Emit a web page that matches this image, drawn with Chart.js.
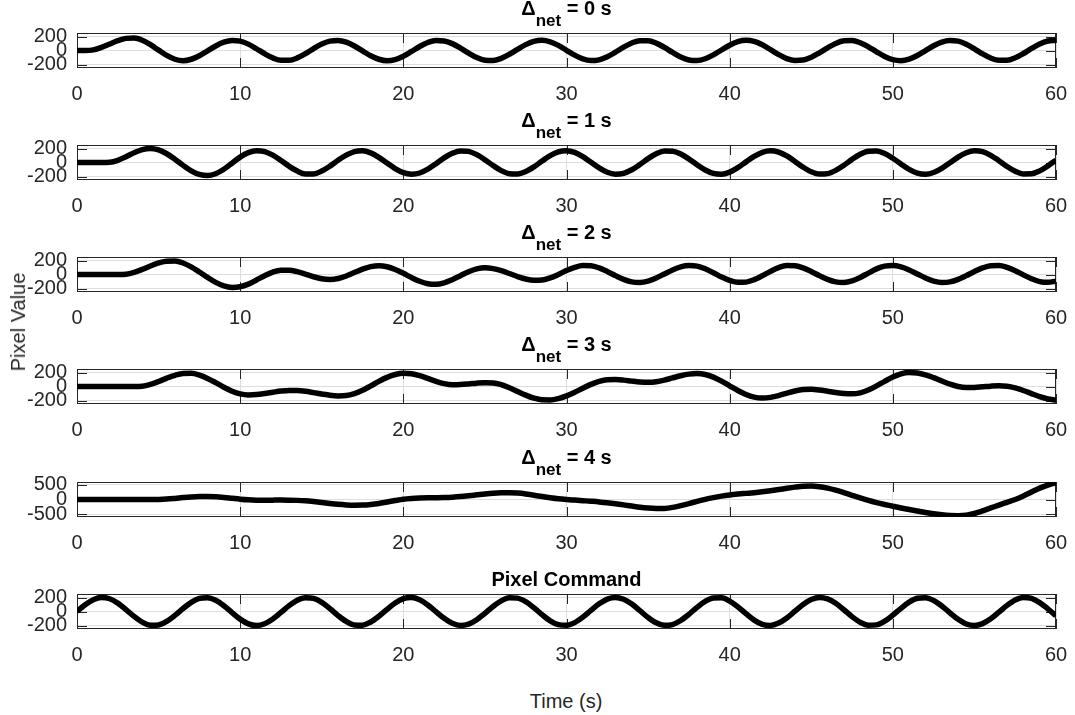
<!DOCTYPE html>
<html>
<head>
<meta charset="utf-8">
<script src="https://cdn.jsdelivr.net/npm/chart.js@4/dist/chart.umd.min.js"></script>
<style>
  html, body { margin: 0; padding: 0; background: #ffffff; }
  #fig { position: relative; width: 1075px; height: 715px; overflow: hidden; background: #ffffff;
         font-family: "Liberation Sans", Arial, Helvetica, sans-serif; color: #262626; }
  #fig canvas { position: absolute; left: 0; }
  .ptitle { position: absolute; left: 77px; width: 979px; text-align: center; font-weight: bold;
            font-size: 20px; line-height: 20px; white-space: nowrap; color: #000; }
  .ptitle .sub { font-size: 17px; position: relative; top: 11px; }
  .axlabel { position: absolute; font-size: 20px; line-height: 20px; white-space: nowrap; color: #262626; }
</style>
</head>
<body>
<div id="fig"></div>
<script>
// ---------------- data ----------------
const time = [0,0.5,1,1.5,2,2.5,3,3.5,4,4.5,5,5.5,6,6.5,7,7.5,8,8.5,9,9.5,
  10,10.5,11,11.5,12,12.5,13,13.5,14,14.5,15,15.5,16,16.5,17,17.5,18,18.5,19,19.5,
  20,20.5,21,21.5,22,22.5,23,23.5,24,24.5,25,25.5,26,26.5,27,27.5,28,28.5,29,29.5,
  30,30.5,31,31.5,32,32.5,33,33.5,34,34.5,35,35.5,36,36.5,37,37.5,38,38.5,39,39.5,
  40,40.5,41,41.5,42,42.5,43,43.5,44,44.5,45,45.5,46,46.5,47,47.5,48,48.5,49,49.5,
  50,50.5,51,51.5,52,52.5,53,53.5,54,54.5,55,55.5,56,56.5,57,57.5,58,58.5,59,59.5,60];

const netDelays = [0, 1, 2, 3, 4];
const commandTitle = 'Pixel Command';
const xTicks = [0, 10, 20, 30, 40, 50, 60];
const yTicksSmall = [-200, 0, 200];
const yTicksLarge = [-500, 0, 500];

const delay0 = [0,0,9,44,93,141,173,178,147,84,
  5,-70,-125,-145,-125,-74,-5,65,119,144,
  134,91,25,-46,-106,-141,-140,-106,-45,27,
  92,134,144,119,64,-6,-75,-125,-145,-129,
  -82,-14,57,114,143,137,98,35,-37,-100,
  -138,-143,-112,-54,17,84,130,145,124,73,
  3,-66,-120,-144,-133,-90,-24,48,107,141,
  140,105,44,-28,-93,-135,-144,-118,-63,7,
  76,126,145,129,81,13,-58,-115,-143,-137,
  -97,-33,38,101,138,142,111,53,-18,-85,
  -131,-145,-123,-71,-2,68,121,144,133,89,
  23,-49,-108,-141,-140,-104,-43,29,94,135,
  144];

const delay1 = [0,0,0,0,3,31,83,140,184,200,
  180,125,46,-41,-119,-171,-187,-160,-96,-10,
  77,141,168,155,105,29,-54,-123,-163,-163,
  -122,-52,31,106,156,167,137,74,-7,-87,
  -145,-168,-150,-95,-17,66,132,166,159,113,
  40,-43,-116,-160,-165,-130,-63,20,97,151,
  168,144,84,4,-77,-139,-167,-154,-104,-28,
  55,124,163,162,121,51,-32,-107,-156,-167,
  -137,-73,9,88,146,168,149,94,15,-67,
  -133,-166,-159,-112,-39,45,117,160,165,129,
  61,-21,-99,-152,-168,-143,-83,-3,78,140,
  167,154,103,26,-57,-125,-164,-162,-120,-49,
  34];

const delay2 = [0,0,0,0,0,0,4,30,73,122,
  165,191,192,164,109,36,-42,-112,-162,-184,
  -175,-137,-79,-17,35,62,61,40,5,-32,
  -60,-70,-57,-21,28,76,112,125,111,72,
  17,-44,-97,-131,-139,-119,-74,-17,40,80,
  95,84,55,14,-29,-65,-83,-80,-49,0,
  56,102,128,125,94,43,-16,-70,-106,-114,
  -94,-50,8,65,109,129,120,82,26,-35,
  -85,-112,-109,-74,-18,45,99,127,125,94,
  43,-16,-70,-106,-114,-92,-42,20,80,119,
  129,109,65,8,-50,-94,-114,-106,-70,-16,
  43,94,125,128,102,54,-5,-61,-101,-112,
  -95];

const delay3 = [0,0,0,0,0,0,0,0,4,30,
  71,119,160,186,188,163,116,55,-10,-67,
  -106,-120,-115,-100,-82,-65,-56,-57,-68,-87,
  -107,-125,-134,-130,-103,-54,8,73,130,171,
  190,183,156,116,74,41,25,28,37,48,
  54,51,26,-17,-70,-123,-166,-191,-193,-173,
  -134,-82,-24,30,72,96,99,91,77,65,
  60,68,91,123,154,177,185,172,134,77,
  10,-57,-114,-152,-165,-155,-130,-95,-64,-44,
  -41,-50,-67,-85,-100,-105,-91,-50,8,74,
  135,180,199,193,167,126,78,33,0,-14,
  -13,-4,5,10,4,-20,-57,-101,-144,-177,
  -193];

const delay4 = [0,0,0,0,0,0,0,0,0,0,
  3,15,38,65,88,102,105,95,72,42,
  12,-10,-22,-25,-22,-20,-22,-30,-45,-70,
  -100,-135,-165,-185,-193,-190,-170,-135,-85,-35,
  10,35,50,58,62,68,80,100,128,160,
  192,218,232,233,220,190,145,100,60,25,
  0,-20,-40,-60,-82,-110,-145,-185,-225,-265,
  -295,-310,-305,-270,-210,-140,-65,5,65,115,
  155,185,210,235,265,300,340,385,425,455,
  460,440,390,320,235,145,55,-30,-105,-170,
  -230,-290,-345,-395,-445,-490,-525,-550,-555,-540,
  -480,-390,-290,-190,-95,0,120,260,390,495,
  580];

const pixelCommand = [0,96,168,199,182,120,28,-70,-151,-196,
  -192,-141,-56,43,131,188,198,160,82,-15,
  -109,-176,-200,-175,-107,-13,84,161,198,187,
  130,41,-58,-142,-192,-195,-150,-68,30,121,
  183,199,167,94,-2,-97,-169,-200,-181,-118,
  -26,72,152,196,191,140,54,-45,-133,-188,
  -198,-159,-81,17,110,177,200,174,106,11,
  -86,-162,-198,-186,-129,-40,59,144,193,195,
  149,67,-32,-123,-183,-199,-166,-93,4,99,
  170,200,180,117,25,-73,-154,-196,-191,-139,
  -52,46,134,189,197,157,79,-19,-112,-178,
  -200,-173,-104,-10,87,163,199,186,127,38,
  -61];

// ---------------- layout / style ----------------
const FONT = '"Liberation Sans", Arial, Helvetica, sans-serif';
const PLOT_LEFT = 77, PLOT_RIGHT = 1056;
const RIGHT_PAD = 30;
const CANVAS_W = PLOT_RIGHT + RIGHT_PAD;
const boxTops = [33, 145, 257, 369, 482, 594];
const BOX_H = 35;
const PAD_TOP = 26, AXIS_H = 46;

const panels = [
  { title: { delay: netDelays[0] }, values: delay0, yTicks: yTicksSmall, yLim: 250 },
  { title: { delay: netDelays[1] }, values: delay1, yTicks: yTicksSmall, yLim: 250 },
  { title: { delay: netDelays[2] }, values: delay2, yTicks: yTicksSmall, yLim: 250 },
  { title: { delay: netDelays[3] }, values: delay3, yTicks: yTicksSmall, yLim: 250 },
  { title: { delay: netDelays[4] }, values: delay4, yTicks: yTicksLarge, yLim: 600 },
  { title: { text: commandTitle },  values: pixelCommand, yTicks: yTicksSmall, yLim: 250 }
];

const matlabAxes = {
  id: 'matlabAxes',
  beforeDatasetsDraw(chart) {
    const { ctx, chartArea: a, scales: { x, y } } = chart;
    const L = 10;
    ctx.save();
    ctx.strokeStyle = '#262626';
    ctx.lineWidth = 1;
    ctx.beginPath();
    x.ticks.forEach(t => {
      const px = Math.round(x.getPixelForValue(t.value)) + 0.5;
      ctx.moveTo(px, a.top); ctx.lineTo(px, a.top + L);
      ctx.moveTo(px, a.bottom); ctx.lineTo(px, a.bottom - L);
    });
    y.ticks.forEach(t => {
      const py = Math.round(y.getPixelForValue(t.value)) + 0.5;
      ctx.moveTo(a.left, py); ctx.lineTo(a.left + L, py);
      ctx.moveTo(a.right, py); ctx.lineTo(a.right - L, py);
    });
    ctx.stroke();
    ctx.strokeRect(Math.round(a.left) + 0.5, Math.round(a.top) + 0.5,
                   Math.round(a.right - a.left) - 1, Math.round(a.bottom - a.top) - 1);
    ctx.restore();
  }
};

const fig = document.getElementById('fig');

panels.forEach((p, i) => {
  const boxTop = boxTops[i];
  const h = PAD_TOP + BOX_H + AXIS_H;
  const cv = document.createElement('canvas');
  cv.width = CANVAS_W; cv.height = h;
  cv.style.width = CANVAS_W + 'px'; cv.style.height = h + 'px';
  cv.style.top = (boxTop - PAD_TOP) + 'px';
  fig.appendChild(cv);

  const t = document.createElement('div');
  t.className = 'ptitle';
  if (p.title.text !== undefined) {
    t.textContent = p.title.text;
    t.style.top = (boxTop - 25) + 'px';
  } else {
    t.innerHTML = '\u0394<span class="sub">net</span> = ' + p.title.delay + ' s';
    t.style.top = (boxTop - 35) + 'px';
  }
  fig.appendChild(t);

  new Chart(cv, {
    type: 'line',
    data: {
      datasets: [{
        data: time.map((tt, k) => ({ x: tt, y: p.values[k] })),
        borderColor: '#000000',
        borderWidth: 5.5,
        borderJoinStyle: 'round',
        pointRadius: 0,
        fill: false,
        cubicInterpolationMode: 'monotone'
      }]
    },
    options: {
      responsive: false,
      animation: false,
      events: [],
      layout: { padding: { top: PAD_TOP, right: RIGHT_PAD, bottom: 0, left: 0 } },
      plugins: { legend: { display: false }, title: { display: false }, tooltip: { enabled: false } },
      scales: {
        x: {
          type: 'linear', min: 0, max: 60,
          afterBuildTicks: s => { s.ticks = xTicks.map(v => ({ value: v })); },
          afterFit: s => { s.height = AXIS_H; },
          grid: { color: '#dedede', lineWidth: 1, drawTicks: false },
          border: { display: false },
          ticks: { color: '#262626', font: { family: FONT, size: 20 }, padding: 14,
                   maxRotation: 0, autoSkip: false }
        },
        y: {
          type: 'linear', min: -p.yLim, max: p.yLim,
          afterBuildTicks: s => { s.ticks = p.yTicks.map(v => ({ value: v })); },
          afterFit: s => { s.width = PLOT_LEFT; },
          grid: { color: '#dedede', lineWidth: 1, drawTicks: false },
          border: { display: false },
          ticks: { color: '#262626', font: { family: FONT, size: 20 }, padding: 10, autoSkip: false }
        }
      }
    },
    plugins: [matlabAxes]
  });
});

const yl = document.createElement('div');
yl.className = 'axlabel';
yl.textContent = 'Pixel Value';
yl.style.left = '18px'; yl.style.top = '322px';
yl.style.transform = 'translate(-50%, -50%) rotate(-90deg)';
fig.appendChild(yl);

const xl = document.createElement('div');
xl.className = 'axlabel';
xl.textContent = 'Time (s)';
xl.style.left = '566px'; xl.style.top = '691px';
xl.style.transform = 'translateX(-50%)';
fig.appendChild(xl);
</script>
</body>
</html>
